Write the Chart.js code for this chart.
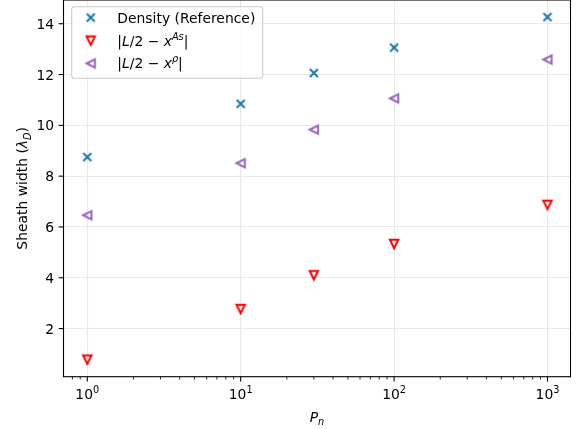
<!DOCTYPE html>
<html><head><meta charset="utf-8">
<script src="https://cdn.jsdelivr.net/npm/chart.js@4.4.0/dist/chart.umd.min.js"></script>
<style>html,body{margin:0;padding:0;background:#fff;}canvas{display:block;}</style>
</head><body>
<canvas id="c" width="580" height="429"></canvas>
<script>
// ---- data ----
const pn = [1, 10, 30, 100, 1000];
const densityRef = [8.75, 10.85, 12.06, 13.06, 14.26];
const diffAs = [0.78, 2.77, 4.10, 5.33, 6.87];
const diffRho = [6.46, 8.51, 9.83, 11.06, 12.59];
const yTicks = [2, 4, 6, 8, 10, 12, 14];
const xTickBase = '10';
const xTickExps = ['0', '1', '2', '3'];
const seriesNames = ['Density (Reference)', '|L/2 − x^As|', '|L/2 − x^ρ|'];
// label pieces: n = roman, i = italic, si = italic superscript, bi = italic subscript, s = roman superscript
const labelParts = [
  [['Density (Reference)', 'n']],
  [['|', 'n'], ['L', 'i'], ['/2', 'n'], [' − ', 'n'], ['x', 'i'], ['As', 'si'], ['|', 'n']],
  [['|', 'n'], ['L', 'i'], ['/2', 'n'], [' − ', 'n'], ['x', 'i'], ['ρ', 'si'], ['|', 'n']]
];
const xLabelParts = [['P', 'i'], ['n', 'bi']];
const yLabelParts = [['Sheath width (', 'n'], ['λ', 'i'], ['D', 'bi'], [')', 'n']];
const colors = ['#1f77b4', '#ff0000', '#9467bd'];

// ---- styling helpers ----
const FAM = "'DejaVu Sans', sans-serif";
const FS = 13.9;
const SS = FS * 0.7;
const GRID = '#e9e9e9';
function fnt(it, size) { return (it ? 'italic ' : '') + size + 'px ' + FAM; }
function partStyle(s) {
  if (s === 'i') return { it: true, size: FS, dy: 0 };
  if (s === 'si') return { it: true, size: SS, dy: -6 };
  if (s === 's') return { it: false, size: SS, dy: -6 };
  if (s === 'bi') return { it: true, size: SS, dy: 3.2 };
  return { it: false, size: FS, dy: 0 };
}
function partsWidth(ctx, parts) {
  let w = 0;
  for (const [t, s] of parts) { const p = partStyle(s); ctx.font = fnt(p.it, p.size); w += ctx.measureText(t).width; }
  return w;
}
function drawParts(ctx, parts, x, y) {
  let cx = x;
  ctx.textAlign = 'left'; ctx.textBaseline = 'alphabetic';
  for (const [t, s] of parts) {
    const p = partStyle(s);
    ctx.font = fnt(p.it, p.size);
    ctx.fillText(t, cx, y + p.dy);
    cx += ctx.measureText(t).width;
  }
}

// ---- marker images ----
function makeMarker(kind, color) {
  const c = document.createElement('canvas');
  c.width = 16; c.height = 16;
  const g = c.getContext('2d');
  g.translate(8, 8);
  g.strokeStyle = color; g.lineJoin = 'miter'; g.lineCap = 'butt';
  if (kind === 'x') {
    const h = 4.0;
    g.lineWidth = 2.1;
    g.beginPath(); g.moveTo(-h, -h); g.lineTo(h, h); g.moveTo(-h, h); g.lineTo(h, -h); g.stroke();
  } else if (kind === 'tdown') {
    const h = 4.2;
    g.lineWidth = 2.0;
    g.beginPath(); g.moveTo(0, h); g.lineTo(-h, -h); g.lineTo(h, -h); g.closePath(); g.stroke();
  } else {
    const h = 4.2;
    g.lineWidth = 2.0;
    g.beginPath(); g.moveTo(-h, 0); g.lineTo(h, -h); g.lineTo(h, h); g.closePath(); g.stroke();
  }
  return c;
}
const markers = [makeMarker('x', colors[0]), makeMarker('tdown', colors[1]), makeMarker('tleft', colors[2])];

// ---- axis limits (matplotlib-style 5% margins) ----
const lxMin = Math.log10(Math.min(...pn)), lxMax = Math.log10(Math.max(...pn));
const xMin = Math.pow(10, lxMin - 0.05 * (lxMax - lxMin));
const xMax = Math.pow(10, lxMax + 0.05 * (lxMax - lxMin));
const allY = densityRef.concat(diffAs, diffRho);
const yLo = Math.min(...allY), yHi = Math.max(...allY);
const yMin = yLo - 0.05 * (yHi - yLo), yMax = yHi + 0.05 * (yHi - yLo);

const decorPlugin = {
  id: 'decor',
  afterDraw(chart) {
    const ctx = chart.ctx;
    const a = chart.chartArea;
    const xs = chart.scales.x, ys = chart.scales.y;
    ctx.save();
    // spines
    ctx.strokeStyle = '#000'; ctx.lineWidth = 1.1;
    ctx.strokeRect(a.left, a.top, a.right - a.left, a.bottom - a.top);
    // x ticks
    ctx.fillStyle = '#000';
    for (const t of xs.ticks) {
      const px = xs.getPixelForValue(t.value);
      ctx.beginPath();
      ctx.lineWidth = t.major ? 1.1 : 0.83;
      ctx.moveTo(px, a.bottom); ctx.lineTo(px, a.bottom + (t.major ? 4.86 : 2.78)); ctx.stroke();
    }
    xs.ticks.filter(t => t.major).forEach((t, i) => {
      const px = xs.getPixelForValue(t.value);
      const parts = [[xTickBase, 'n'], [xTickExps[i], 's']];
      const w = partsWidth(ctx, parts);
      drawParts(ctx, parts, px - w / 2, 399.3);
    });
    // y ticks
    for (const t of ys.ticks) {
      const py = ys.getPixelForValue(t.value);
      ctx.beginPath(); ctx.lineWidth = 1.1;
      ctx.moveTo(a.left, py); ctx.lineTo(a.left - 4.86, py); ctx.stroke();
      ctx.font = fnt(false, FS); ctx.textAlign = 'right'; ctx.textBaseline = 'alphabetic';
      ctx.fillText(String(t.value), a.left - 9.4, py + 5.05);
    }
    // x label
    const xw = partsWidth(ctx, xLabelParts);
    drawParts(ctx, xLabelParts, (a.left + a.right) / 2 - xw / 2, 421.8);
    // y label
    const yw = partsWidth(ctx, yLabelParts);
    ctx.save();
    ctx.translate(27.4, (a.top + a.bottom) / 2);
    ctx.rotate(-Math.PI / 2);
    drawParts(ctx, yLabelParts, -yw / 2, 0);
    ctx.restore();
    // legend
    const L = { x: 71.7, y: 6.7, w: 191, h: 71.6, r: 2.8 };
    ctx.beginPath();
    ctx.roundRect(L.x, L.y, L.w, L.h, L.r);
    ctx.fillStyle = 'rgba(255,255,255,0.8)'; ctx.fill();
    ctx.strokeStyle = '#cccccc'; ctx.lineWidth = 1.1; ctx.stroke();
    const rowBase = [23.3, 45.9, 68.3];
    const markY = [17.6, 40.6, 63.4];
    chart.data.datasets.forEach((ds, i) => {
      const m = markers[i];
      ctx.drawImage(m, 90.7 - m.width / 2, markY[i] - m.height / 2);
      ctx.fillStyle = '#000';
      drawParts(ctx, labelParts[i], 117.3, rowBase[i]);
    });
    ctx.restore();
  }
};

const mk = (ys) => pn.map((x, i) => ({ x: x, y: ys[i] }));
new Chart(document.getElementById('c'), {
  type: 'scatter',
  data: {
    datasets: [
      { label: seriesNames[0], data: mk(densityRef), pointStyle: markers[0], pointRadius: 6, pointHoverRadius: 6, clip: false },
      { label: seriesNames[1], data: mk(diffAs), pointStyle: markers[1], pointRadius: 6, pointHoverRadius: 6, clip: false },
      { label: seriesNames[2], data: mk(diffRho), pointStyle: markers[2], pointRadius: 6, pointHoverRadius: 6, clip: false }
    ]
  },
  options: {
    responsive: false, animation: false, devicePixelRatio: 1, events: [],
    layout: { autoPadding: false, padding: { left: 0, right: 9.5, top: 0, bottom: 0 } },
    plugins: { legend: { display: false }, tooltip: { enabled: false } },
    scales: {
      x: {
        type: 'logarithmic', min: xMin, max: xMax, position: 'bottom',
        afterBuildTicks: (s) => {
          const t = [];
          for (let d = 0.1; d <= 1000; d *= 10) {
            for (let m = 1; m <= 9; m++) {
              const v = Math.round(m * d * 1000) / 1000;
              if (v >= xMin && v <= xMax) t.push({ value: v, major: m === 1 });
            }
          }
          s.ticks = t;
        },
        afterFit: (s) => { s.height = 52.3; s.paddingLeft = 0; s.paddingRight = 0; },
        ticks: { display: false, autoSkip: false },
        grid: { drawTicks: false, lineWidth: 1.1, color: (c) => (c.tick && c.tick.major) ? GRID : 'rgba(0,0,0,0)' },
        border: { display: false }
      },
      y: {
        type: 'linear', min: yMin, max: yMax,
        afterBuildTicks: (s) => { s.ticks = yTicks.map(v => ({ value: v })); },
        afterFit: (s) => { s.width = 63.5; s.paddingTop = 0; s.paddingBottom = 0; },
        ticks: { display: false },
        grid: { drawTicks: false, lineWidth: 1.1, color: GRID },
        border: { display: false }
      }
    }
  },
  plugins: [decorPlugin]
});
</script>
</body></html>
